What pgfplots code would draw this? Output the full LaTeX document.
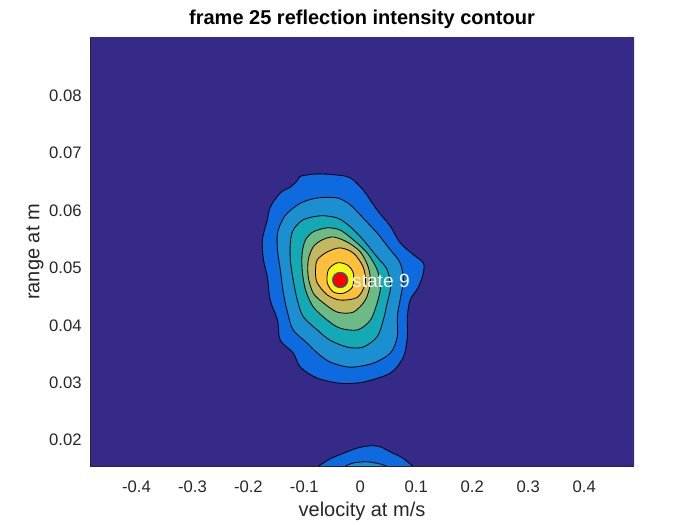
\documentclass[border=0pt]{standalone}
\usepackage{pgfplots}
\pgfplotsset{compat=1.18}
\usepackage{fontspec}
\setmainfont{Liberation Sans}

\definecolor{lv0}{HTML}{352A87}
\definecolor{lv1}{HTML}{0D6ADF}
\definecolor{lv2}{HTML}{1C8FD0}
\definecolor{lv3}{HTML}{14AAB5}
\definecolor{lv4}{HTML}{6CBB86}
\definecolor{lv5}{HTML}{C2B860}
\definecolor{lv6}{HTML}{FEC03C}
\definecolor{lv7}{HTML}{F7F90F}
\definecolor{mkedge}{HTML}{0072BD}
\definecolor{axgray}{HTML}{262626}

\begin{document}
\begin{tikzpicture}
\useasboundingbox (0,0) rectangle (420pt,315pt);
\begin{axis}[
  at={(54pt,35.4pt)}, anchor=south west,
  scale only axis, width=326.4pt, height=256.8pt,
  xmin=-0.483, xmax=0.489, ymin=0.01547, ymax=0.0901,
  xtick={-0.4,-0.3,...,0.41}, ytick={0.02,0.03,...,0.081},
  /pgf/number format/assume math mode=true,
  xticklabel style={/pgf/number format/fixed, anchor=center, yshift=-12.6pt},
  yticklabel style={/pgf/number format/fixed, /pgf/number format/fixed zerofill,
    /pgf/number format/precision=2, anchor=east, inner sep=0pt, xshift=-4.8pt},
  scaled ticks=false,
  major tick length=0pt,
  axis x line*=bottom, axis y line*=left,
  axis line style={axgray, line width=0.5pt, -},
  axis on top,
  title={\bfseries\fontsize{12}{14}\selectfont frame 25 reflection intensity contour},
  title style={at={(axis description cs:0.5,1.02)}, anchor=center},
  xlabel={velocity at m/s},
  xlabel style={at={(axis description cs:0.5,-0.105)}, anchor=center},
  ylabel={range at m},
  ylabel style={at={(axis description cs:-0.101,0.5)}, anchor=center},
  label style={font=\fontsize{12}{14}\selectfont, text=axgray},
  tick label style={font=\fontsize{10}{12}\selectfont, text=axgray},
]
% lowest level
\addplot[fill=lv0, draw=none] coordinates {(-0.6,0.01) (0.6,0.01) (0.6,0.1) (-0.6,0.1)} -- cycle;

% level 1
\addplot[fill=lv1, draw=black, line width=0.5pt, smooth cycle] coordinates {
(-0.111,0.0654) (-0.107,0.0660) (-0.077,0.0664) (-0.041,0.0662) (-0.018,0.0657)
(0.005,0.0636) (0.030,0.0601) (0.054,0.0572) (0.071,0.0544) (0.095,0.0523)
(0.1125,0.0509) (0.1125,0.0491) (0.104,0.0467) (0.089,0.0444) (0.084,0.0415)
(0.084,0.0380) (0.077,0.0345) (0.054,0.0317) (0.005,0.0301) (-0.036,0.0299)
(-0.077,0.0308) (-0.107,0.0327) (-0.120,0.0352) (-0.143,0.0374) (-0.148,0.0409)
(-0.161,0.0444) (-0.166,0.0484) (-0.173,0.0514) (-0.175,0.0549) (-0.166,0.0584)
(-0.161,0.0606) (-0.143,0.0631) (-0.125,0.0641)};

% level 2
\addplot[fill=lv2, draw=black, line width=0.5pt, smooth cycle] coordinates {
(-0.130,0.0596) (-0.107,0.0613) (-0.077,0.0622) (-0.041,0.0622) (-0.018,0.0610)
(0.005,0.0587) (0.030,0.0561) (0.054,0.0531) (0.071,0.0509) (0.077,0.0479)
(0.071,0.0444) (0.066,0.0415) (0.066,0.0380) (0.054,0.0352) (0.023,0.0334)
(-0.018,0.0327) (-0.054,0.0336) (-0.077,0.0352) (-0.095,0.0369) (-0.120,0.0392)
(-0.130,0.0422) (-0.1375,0.0456) (-0.143,0.0497) (-0.148,0.0531) (-0.148,0.0561)
(-0.139,0.0584)};

% level 3
\addplot[fill=lv3, draw=black, line width=0.5pt, smooth cycle] coordinates {
(-0.120,0.0566) (-0.102,0.0584) (-0.071,0.0591) (-0.041,0.0587) (-0.018,0.0572)
(0.005,0.0549) (0.030,0.0519) (0.048,0.0497) (0.054,0.0467) (0.048,0.0439)
(0.041,0.0409) (0.030,0.0380) (0.005,0.0362) (-0.023,0.0362) (-0.054,0.0374)
(-0.077,0.0392) (-0.102,0.0415) (-0.1125,0.0444) (-0.120,0.0479) (-0.125,0.0514)
(-0.125,0.0544)};

% level 4
\addplot[fill=lv4, draw=black, line width=0.5pt, smooth cycle] coordinates {
(-0.098,0.0549) (-0.084,0.0563) (-0.059,0.0570) (-0.036,0.0566) (-0.0125,0.0549)
(0.0125,0.0526) (0.030,0.0497) (0.036,0.0467) (0.030,0.0439) (0.018,0.0409)
(-0.005,0.0392) (-0.036,0.0395) (-0.059,0.0409) (-0.084,0.0432) (-0.098,0.0462)
(-0.104,0.0497) (-0.104,0.0526)};

% level 5
\addplot[fill=lv5, draw=black, line width=0.5pt, smooth cycle] coordinates {
(-0.084,0.0537) (-0.068,0.0549) (-0.048,0.0554) (-0.023,0.0545) (0.000,0.0528)
(0.014,0.0502) (0.018,0.0474) (0.009,0.0444) (-0.0125,0.0423) (-0.041,0.0423)
(-0.066,0.0439) (-0.084,0.0456) (-0.093,0.0484) (-0.093,0.0514)};

% level 6
\addplot[fill=lv6, draw=black, line width=0.5pt, smooth cycle] coordinates {
(-0.077,0.0514) (-0.059,0.0528) (-0.036,0.0535) (-0.0125,0.0526) (0.005,0.0502)
(0.009,0.0474) (-0.005,0.0449) (-0.036,0.0444) (-0.059,0.0453) (-0.077,0.0474)
(-0.080,0.0493)};

% level 7
\addplot[fill=lv7, draw=black, line width=0.5pt, smooth cycle] coordinates {
(-0.057,0.0497) (-0.041,0.0509) (-0.023,0.0505) (-0.0125,0.0491) (-0.014,0.0467)
(-0.030,0.0456) (-0.048,0.0458) (-0.059,0.0474)};

% lower blob
\addplot[fill=lv1, draw=black, line width=0.5pt, smooth] coordinates {
(-0.092,0.0140) (-0.077,0.0153) (-0.054,0.0167) (-0.030,0.0177) (-0.005,0.0186)
(0.018,0.0190) (0.036,0.0188) (0.054,0.0179) (0.075,0.0169) (0.095,0.0153) (0.108,0.0140)};
\addplot[fill=lv2, draw=black, line width=0.5pt, smooth] coordinates {
(-0.040,0.0146) (-0.030,0.0153) (-0.0125,0.0160) (0.0125,0.0162) (0.036,0.0158)
(0.050,0.0153) (0.058,0.0146)};

% peak
\addplot[only marks, mark=*, mark size=4.6pt,
  mark options={fill=red, draw=mkedge, line width=0.6pt}] coordinates {(-0.036,0.0479)};
\node[anchor=west, text=white, inner sep=0pt, xshift=7pt, font=\fontsize{11.5}{13}\selectfont]
  at (axis cs:-0.036,0.0477) {state 9};
\end{axis}
\end{tikzpicture}
\end{document}
